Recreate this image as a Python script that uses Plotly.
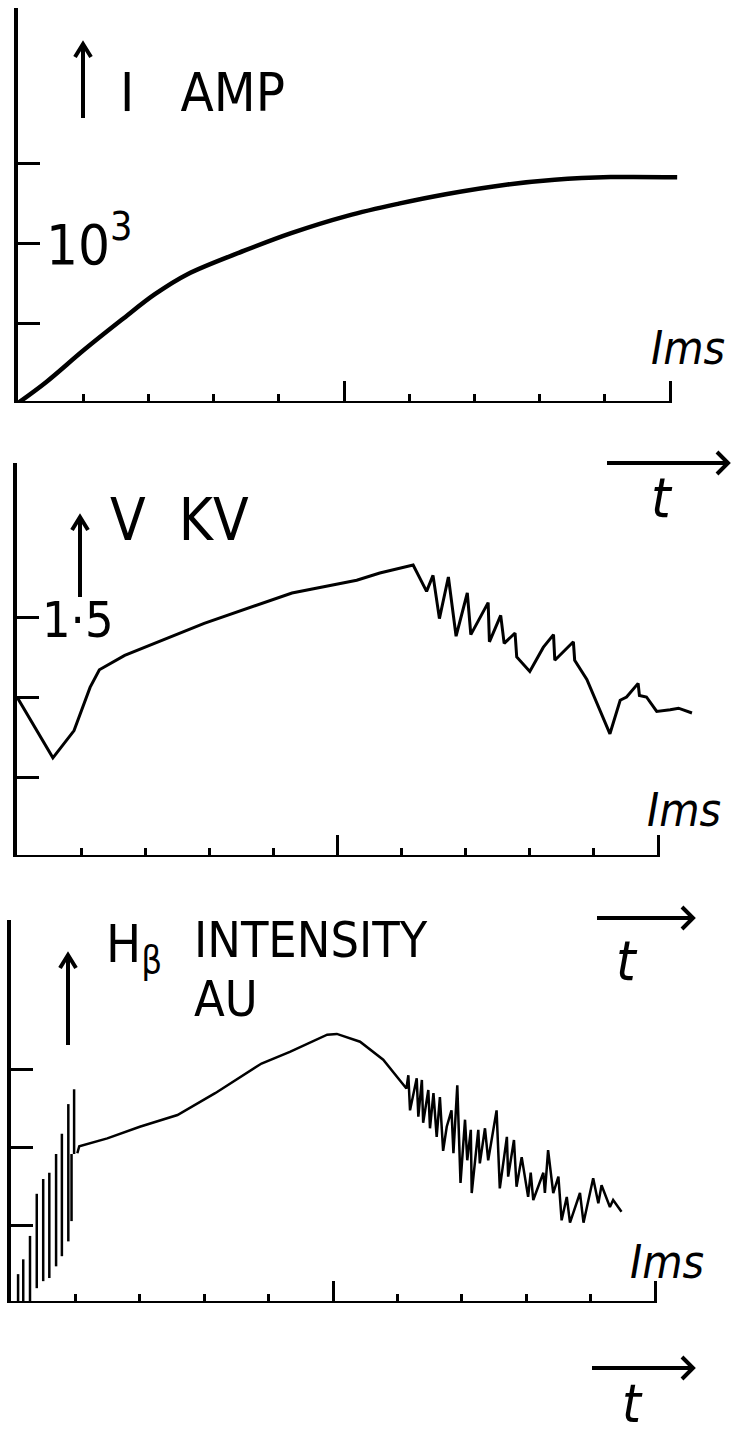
import plotly.graph_objects as go

# ---------------- data ----------------
# Panel 1: current I (A) vs time (ms)
t_current = [0.0, 0.043, 0.101, 0.159, 0.21, 0.26, 0.347, 0.419, 0.505, 0.584,
             0.656, 0.751, 0.823, 0.909, 1.011]
i_current = [0, 130, 331, 520, 680, 805, 952, 1062, 1170, 1246,
             1305, 1366, 1396, 1412, 1411]
current_ticks = [500, 1000, 1500]

# Panel 2: voltage V (kV) vs time (ms)
t_voltage = [0.0, 0.056, 0.089, 0.114, 0.1285, 0.168, 0.292, 0.429, 0.53, 0.566,
             0.618, 0.639, 0.649, 0.659, 0.673, 0.685, 0.7025, 0.708, 0.735, 0.737,
             0.7546, 0.76, 0.777, 0.7796, 0.8, 0.821, 0.837, 0.839, 0.868, 0.87,
             0.889, 0.925, 0.941, 0.951, 0.969, 0.971, 0.982, 0.998, 1.019, 1.032, 1.053]
v_voltage = [1.0, 0.62, 0.79, 1.06, 1.17, 1.26, 1.46, 1.65, 1.73, 1.775,
             1.825, 1.66, 1.76, 1.49, 1.75, 1.38, 1.65, 1.39, 1.59, 1.345,
             1.51, 1.335, 1.40, 1.25, 1.16, 1.31, 1.39, 1.23, 1.345, 1.23,
             1.11, 0.77, 0.98, 1.00, 1.085, 1.01, 1.00, 0.91, 0.92, 0.93, 0.90]
voltage_ticks = [0.5, 1.0, 1.5]

# Panel 3: H-beta intensity (AU) vs time (ms)
spike_t = [0.011, 0.019, 0.0295, 0.040, 0.050, 0.0595, 0.070, 0.079, 0.089, 0.094, 0.098]
spike_lo = [0.0, 0.0, 0.0, 0.19, 0.28, 0.32, 0.47, 0.60, 0.79, 1.05, 1.91]
spike_hi = [0.37, 0.56, 0.86, 1.40, 1.59, 1.67, 1.91, 2.17, 2.55, 1.91, 2.74]
t_intensity = [0.103, 0.106, 0.1495, 0.2, 0.2585, 0.317, 0.389, 0.433, 0.491, 0.506,
               0.542, 0.578, 0.614, 0.617, 0.6196, 0.63, 0.6325, 0.638, 0.64, 0.648,
               0.6506, 0.656, 0.661, 0.666, 0.671, 0.6766, 0.684, 0.687, 0.693, 0.698,
               0.705, 0.7085, 0.714, 0.7154, 0.7256, 0.728, 0.736, 0.741, 0.754, 0.759,
               0.77, 0.772, 0.781, 0.785, 0.793, 0.803, 0.807, 0.811, 0.8266, 0.829,
               0.834, 0.842, 0.85, 0.855, 0.863, 0.868, 0.8835, 0.889, 0.904, 0.912,
               0.917, 0.93, 0.935, 0.948]
i_intensity = [1.92, 2.01, 2.11, 2.26, 2.41, 2.69, 3.07, 3.22, 3.44, 3.45,
               3.35, 3.12, 2.75, 2.92, 2.47, 2.88, 2.39, 2.86, 2.31, 2.73,
               2.24, 2.69, 2.13, 2.64, 1.95, 2.26, 2.47, 1.92, 2.79, 1.54,
               2.35, 1.83, 2.22, 1.41, 2.22, 1.79, 2.24, 1.83, 2.47, 1.47,
               2.13, 1.62, 2.09, 1.49, 1.87, 1.36, 1.67, 1.32, 1.67, 1.41,
               1.96, 1.41, 1.62, 1.06, 1.36, 1.03, 1.41, 1.03, 1.60, 1.28,
               1.51, 1.23, 1.32, 1.17]
intensity_ticks = [1, 2, 3]

x_major_ticks = [0.5, 1.0]
x_minor_ticks = [0.1, 0.2, 0.3, 0.4, 0.6, 0.7, 0.8, 0.9]

# ---------------- layout helpers ----------------
W, H = 733, 1438
def px(x):
    return x / W
def py(y):
    return 1 - y / H

FONT = "Liberation Sans Narrow, DejaVu Sans Condensed, DejaVu Sans, sans-serif"
INK = "black"

# panel geometry in pixels: left edge, origin y, top y, px per ms, px per y-unit
panels = [
    dict(left=18, origin=403, top=8, sx=652, sy=80 / 500),
    dict(left=17, origin=857, top=463, sx=641, sy=160),
    dict(left=11, origin=1303, top=920, sx=644, sy=78),
]
ytickvals = [current_ticks, voltage_ticks, intensity_ticks]

fig = go.Figure()

# spikes for panel 3 as separated vertical strokes
sx_, sy_ = [], []
for t, lo, hi in zip(spike_t, spike_lo, spike_hi):
    sx_ += [t, t, None]
    sy_ += [lo, hi, None]

fig.add_trace(go.Scatter(x=t_current, y=i_current, mode="lines",
                         line=dict(color=INK, width=4.5, shape="spline", smoothing=1.0),
                         xaxis="x", yaxis="y", showlegend=False))
fig.add_trace(go.Scatter(x=t_voltage, y=v_voltage, mode="lines",
                         line=dict(color=INK, width=3),
                         xaxis="x2", yaxis="y2", showlegend=False))
fig.add_trace(go.Scatter(x=sx_, y=sy_, mode="lines",
                         line=dict(color=INK, width=2.5),
                         xaxis="x3", yaxis="y3", showlegend=False))
fig.add_trace(go.Scatter(x=t_intensity, y=i_intensity, mode="lines",
                         line=dict(color=INK, width=2.5),
                         xaxis="x3", yaxis="y3", showlegend=False))

shapes = []
for k, p in enumerate(panels):
    sfx = "" if k == 0 else str(k + 1)
    xr = (W - p["left"]) / p["sx"]
    yr = (p["origin"] - p["top"]) / p["sy"]
    fig.layout["xaxis" + sfx] = dict(
        domain=[px(p["left"]), 1], range=[0, xr], anchor="y" + sfx,
        showgrid=False, zeroline=False, showline=False, showticklabels=False,
        ticks="inside", tickvals=x_major_ticks, ticklen=22, tickwidth=3, tickcolor=INK,
        minor=dict(ticks="inside", tickvals=x_minor_ticks, ticklen=9, tickwidth=3,
                   tickcolor=INK, showgrid=False),
        fixedrange=True)
    fig.layout["yaxis" + sfx] = dict(
        domain=[py(p["origin"]), py(p["top"])], range=[0, yr], anchor="x" + sfx,
        showgrid=False, zeroline=False, showline=True, linecolor=INK, linewidth=4,
        showticklabels=False, ticks="inside", tickvals=ytickvals[k], ticklen=22,
        tickwidth=3, tickcolor=INK, fixedrange=True)
    # x axis line ending at the 1 ms tick
    shapes.append(dict(type="line", xref="x" + sfx, yref="y" + sfx,
                       x0=0, x1=1.0, y0=0, y1=0, line=dict(color=INK, width=4)))

def up_arrow(x, y0, y1):
    return dict(type="path", xref="paper", yref="paper",
                path=(f"M {px(x)},{py(y0)} L {px(x)},{py(y1)} "
                      f"M {px(x-8)},{py(y1+13)} L {px(x)},{py(y1)} L {px(x+8)},{py(y1+13)}"),
                line=dict(color=INK, width=4))

def right_arrow(x0, x1, y):
    return dict(type="path", xref="paper", yref="paper",
                path=(f"M {px(x0)},{py(y)} L {px(x1)},{py(y)} "
                      f"M {px(x1-11)},{py(y-11)} L {px(x1)},{py(y)} L {px(x1-11)},{py(y+11)}"),
                line=dict(color=INK, width=4))

shapes += [up_arrow(83, 118, 44), up_arrow(80, 597, 517), up_arrow(68, 1045, 955),
           right_arrow(607, 728, 463), right_arrow(597, 693, 918), right_arrow(592, 693, 1368)]

def label(x, y, text, size, anchor="left", italic=False):
    if italic:
        text = f"<i>{text}</i>"
    return dict(x=px(x), y=py(y), xref="paper", yref="paper", xanchor=anchor,
                yanchor="middle", text=text, showarrow=False,
                font=dict(family=FONT, size=size, color=INK))

annotations = [
    label(118, 92, "I\u00a0\u00a0\u00a0AMP", 54),
    label(44, 240, "10<sup>3</sup>", 56),
    label(108, 520, "V\u00a0\u00a0KV", 58),
    label(40, 620, "1·5", 50),
    label(104, 948, "H<sub>β</sub>", 52),
    label(192, 940, "INTENSITY", 50),
    label(192, 999, "AU", 50),
    label(688, 348, "Ims", 46, anchor="center", italic=True),
    label(684, 810, "Ims", 46, anchor="center", italic=True),
    label(667, 1262, "Ims", 46, anchor="center", italic=True),
    label(662, 497, "t", 56, anchor="center", italic=True),
    label(627, 960, "t", 56, anchor="center", italic=True),
    label(632, 1403, "t", 54, anchor="center", italic=True),
]

fig.update_layout(width=W, height=H, margin=dict(l=0, r=0, t=0, b=0),
                  paper_bgcolor="white", plot_bgcolor="white",
                  shapes=shapes, annotations=annotations, showlegend=False)

fig.write_html("out.html", config={"displayModeBar": False},
               post_script="document.body.style.margin='0';"
                           "document.body.style.overflow='hidden';")
